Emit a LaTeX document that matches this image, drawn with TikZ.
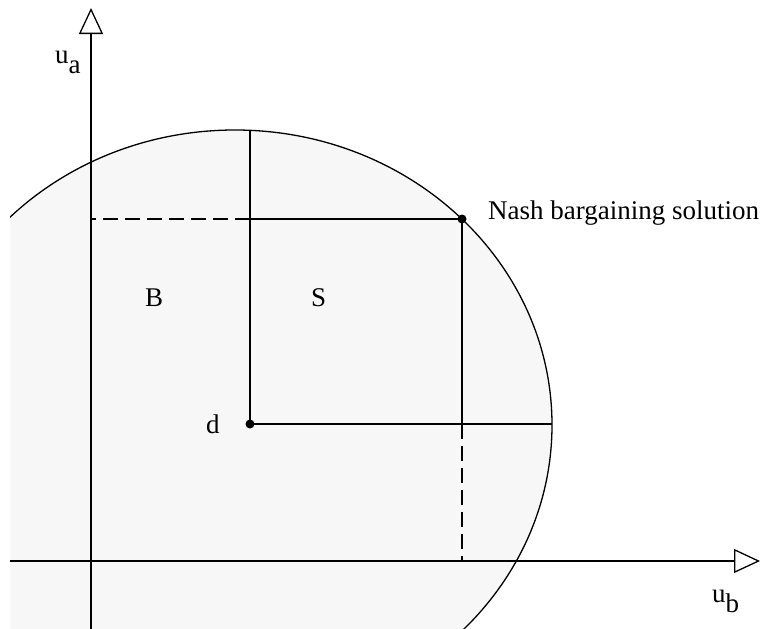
\documentclass[tikz,border=0pt]{standalone}
\usepackage{fontspec}
\setmainfont{Liberation Serif}
\usetikzlibrary{arrows.meta}
\definecolor{regionfill}{HTML}{F7F7F7}
\begin{document}
\begin{tikzpicture}[x=1pt,y=-1pt,
  lbl/.style={inner sep=0pt, anchor=base west, font=\fontsize{27}{30}\selectfont},
  axisline/.style={line width=1.3pt, -{Triangle[open, length=26pt, width=24pt, line width=1.3pt]}},
  solidline/.style={line width=1.3pt},
  dashline/.style={line width=1.3pt, dash pattern=on 15pt off 7pt},
  pt/.style={circle, fill=black, inner sep=0pt, minimum size=9pt}]
\useasboundingbox (0,0) rectangle (761,629);
\begin{scope}
  \clip (10,0) rectangle (761,629);
  \filldraw[fill=regionfill, draw=black, line width=1.3pt] (235,425) ellipse [x radius=317, y radius=295];
\end{scope}
\coordinate (O) at (91,561);
\coordinate (xstart) at (10,561);
\coordinate (xend) at (760,561);
\coordinate (ybot) at (91,629);
\coordinate (yend) at (91,8);
\coordinate (d) at (250,424);
\coordinate (N) at (462,219);
\coordinate (top) at (250,130);
\coordinate (right) at (552,424);
\draw[axisline] (xstart) -- (xend);
\draw[axisline] (ybot) -- (yend);
\draw[solidline] (d) -- (top);
\draw[solidline] (d) -- (right);
\draw[solidline] (N) -- (d |- N);
\draw[solidline] (N) -- (N |- d);
\draw[dashline] (d |- N) -- (O |- N);
\draw[dashline] (N |- d) -- (N |- O);
\node[pt] (dpt) at (d) {};
\node[pt] (Npt) at (N) {};
\node[lbl] (ua) at (55,63) {u\raisebox{-10pt}{a}};
\node[lbl] (ub) at (712,602) {u\raisebox{-10pt}{b}};
\node[lbl] (nash) at (488,219) {Nash bargaining solution};
\node[lbl] (B) at (145,306) {B};
\node[lbl] (S) at (311,306) {S};
\node[lbl] (dl) at (206,433) {d};
\end{tikzpicture}
\end{document}
